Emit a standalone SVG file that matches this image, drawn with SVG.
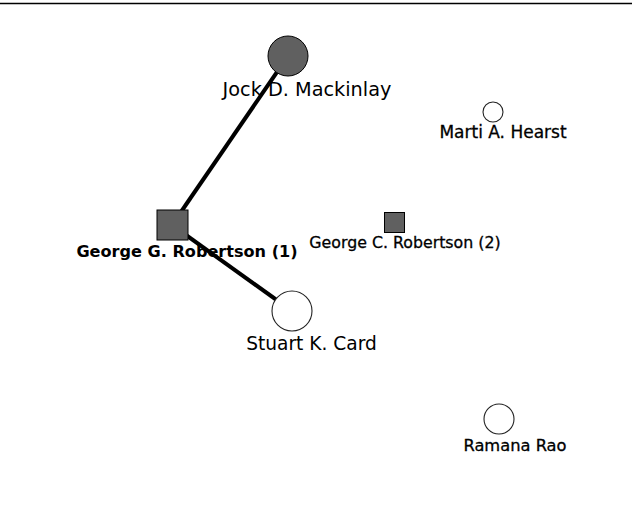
<svg xmlns="http://www.w3.org/2000/svg" width="632" height="508" viewBox="0 0 632 508">
<style>
text{font-family:"DejaVu Sans","Liberation Sans",sans-serif;fill:#000;text-anchor:middle}
.heavy{stroke:#000;stroke-width:0.3}
.edge{stroke:#000;stroke-width:4;fill:none}
.dark{fill:#606060;stroke:#000;stroke-width:1}
.light{fill:#fff;stroke:#222;stroke-width:1.1}
</style>
<rect width="632" height="508" fill="#fff"/>
<line x1="0" y1="3.5" x2="632" y2="3.5" stroke="#000" stroke-width="1.5"/>
<g id="connectors">
<line class="edge" x1="288" y1="56" x2="172" y2="225"/>
<line class="edge" x1="172" y1="225" x2="292" y2="311"/>
</g>
<g id="jock">
<circle class="dark" cx="288" cy="56" r="20"/>
<text x="307" y="96" font-size="19.3">Jock D. Mackinlay</text>
</g>
<g id="marti">
<circle class="light" cx="493" cy="112" r="10"/>
<text class="heavy" x="503" y="138" font-size="17">Marti A. Hearst</text>
</g>
<g id="george1">
<rect class="dark" x="157" y="210" width="31" height="30"/>
<text x="187" y="257" font-size="16.1" font-weight="bold">George G. Robertson (1)</text>
</g>
<g id="george2">
<rect class="dark" x="384.5" y="212.5" width="20" height="20"/>
<text class="heavy" x="405" y="248" font-size="15.8">George C. Robertson (2)</text>
</g>
<g id="stuart">
<circle class="light" cx="292" cy="311" r="20"/>
<text x="311.5" y="350" font-size="18.6">Stuart K. Card</text>
</g>
<g id="ramana">
<circle class="light" cx="499" cy="419" r="15"/>
<text class="heavy" x="515" y="451" font-size="16.3">Ramana Rao</text>
</g>
</svg>
